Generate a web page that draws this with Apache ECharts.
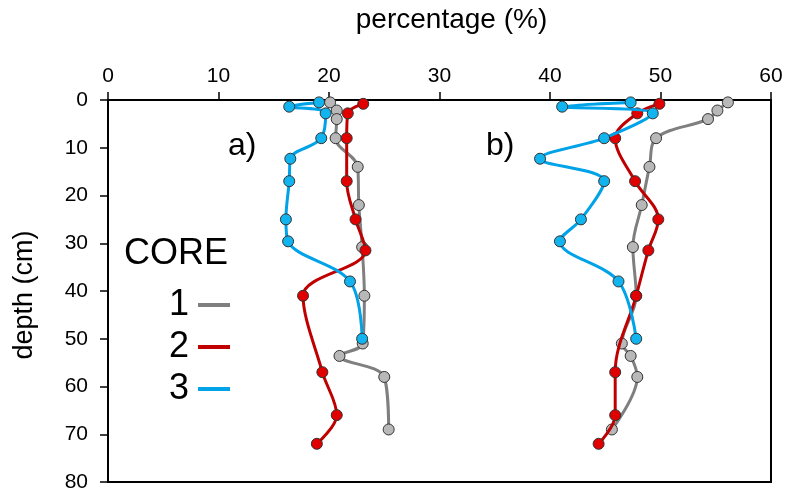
<!DOCTYPE html>
<html>
<head>
<meta charset="utf-8">
<script src="https://cdn.jsdelivr.net/npm/echarts@6/dist/echarts.min.js"></script>
<style>
html,body{margin:0;padding:0;background:#fff;}
#chart{width:787px;height:495px;}
</style>
</head>
<body>
<div id="chart"></div>
<script>
// Depths (cm) for each core
var depth1 = [0.5, 2.2, 4, 8, 14, 22, 30.8, 41, 51, 53.6, 58, 69];
var depth2 = [0.8, 2.8, 8, 17, 25, 31.5, 41, 57, 66, 72];
var depth3 = [0.5, 1.4, 2.8, 8, 12.3, 17, 25, 29.6, 38, 50];
// Panel a) percentages
var a1 = [20.1, 20.7, 20.7, 20.6, 22.6, 22.7, 23.0, 23.2, 23.05, 20.95, 25.0, 25.4];
var a2 = [23.1, 21.7, 21.6, 21.6, 22.4, 23.3, 17.65, 19.4, 20.7, 18.9];
var a3 = [19.1, 16.4, 19.7, 19.3, 16.5, 16.4, 16.1, 16.3, 21.9, 23.0];
// Panel b) percentages
var b1 = [56.1, 55.15, 54.3, 49.6, 49.0, 48.3, 47.5, 47.8, 46.5, 47.3, 47.9, 45.6];
var b2 = [49.9, 47.9, 45.9, 47.7, 49.8, 48.9, 47.8, 45.9, 45.9, 44.4];
var b3 = [47.3, 41.1, 49.3, 44.9, 39.1, 44.9, 42.8, 40.9, 46.2, 47.8];
var coreNames = ['1', '2', '3'];
var xTicks = [0, 10, 20, 30, 40, 50, 60];
var yTicks = [0, 10, 20, 30, 40, 50, 60, 70, 80];

var lineColors = ['#7f7f7f', '#c00000', '#00a2e8'];
var fillColors = ['#b8b8b8', '#e00000', '#12b4f0'];

function zip(xs, ys) { return xs.map(function (v, i) { return [v, ys[i]]; }); }

function mk(name, idx, xs, ys) {
  return {
    name: name, type: 'line', smooth: 0.35,
    data: zip(xs, ys),
    symbol: 'circle', symbolSize: 11,
    z: 2 + idx,
    lineStyle: { color: lineColors[idx], width: 3 },
    itemStyle: { color: fillColors[idx], borderColor: '#333', borderWidth: 1 }
  };
}

var font = 'Arial, "Liberation Sans", sans-serif';
var chart = echarts.init(document.getElementById('chart'), null, { renderer: 'canvas' });
chart.setOption({
  animation: false,
  backgroundColor: '#fff',
  textStyle: { fontFamily: font },
  grid: { left: 108, top: 100, right: 16, bottom: 13, containLabel: false, outerBoundsMode: 'none', show: true, borderColor: '#000', borderWidth: 2, backgroundColor: 'transparent' },
  xAxis: {
    type: 'value', position: 'top', min: xTicks[0], max: xTicks[xTicks.length - 1], interval: 10,
    name: 'percentage (%)', nameLocation: 'middle', nameGap: 66,
    nameTextStyle: { fontSize: 28, color: '#000', fontFamily: font, padding: [0, 0, 0, 24] },
    axisLine: { show: true, lineStyle: { color: '#000', width: 2 } },
    axisTick: { show: true, inside: false, length: 8, lineStyle: { color: '#000', width: 1.5 } },
    axisLabel: { fontSize: 21, color: '#000', margin: 13, fontFamily: font },
    splitLine: { show: false }
  },
  yAxis: {
    type: 'value', inverse: true, min: yTicks[0], max: yTicks[yTicks.length - 1], interval: 10,
    name: 'depth (cm)', nameLocation: 'middle', nameGap: 70, nameRotate: 90,
    nameTextStyle: { fontSize: 27, color: '#000', fontFamily: font, padding: [0, 8, 0, 0] },
    axisLine: { show: true, lineStyle: { color: '#000', width: 2 } },
    axisTick: { show: true, inside: false, length: 8, lineStyle: { color: '#000', width: 1.5 } },
    axisLabel: { fontSize: 21, color: '#000', margin: 20, fontFamily: font },
    splitLine: { show: false }
  },
  legend: {
    orient: 'vertical', left: 164, top: 282, align: 'right',
    icon: 'rect', itemWidth: 32, itemHeight: 4, itemGap: 6,
    textStyle: { fontSize: 36, color: '#000', fontFamily: font, padding: [0, 4, 0, 0] },
    data: coreNames.map(function (n, i) { return { name: n, itemStyle: { color: lineColors[i], borderWidth: 0 } }; })
  },
  graphic: [
    { type: 'text', left: 124, top: 236, style: { text: 'CORE', fontSize: 36, fill: '#000', fontFamily: font } },
    { type: 'text', left: 228, top: 130, style: { text: 'a)', fontSize: 32, fill: '#000', fontFamily: font } },
    { type: 'text', left: 486, top: 130, style: { text: 'b)', fontSize: 32, fill: '#000', fontFamily: font } }
  ],
  series: [
    mk('1', 0, a1, depth1), mk('1', 0, b1, depth1),
    mk('2', 1, a2, depth2), mk('2', 1, b2, depth2),
    mk('3', 2, a3, depth3), mk('3', 2, b3, depth3)
  ]
});
</script>
</body>
</html>
